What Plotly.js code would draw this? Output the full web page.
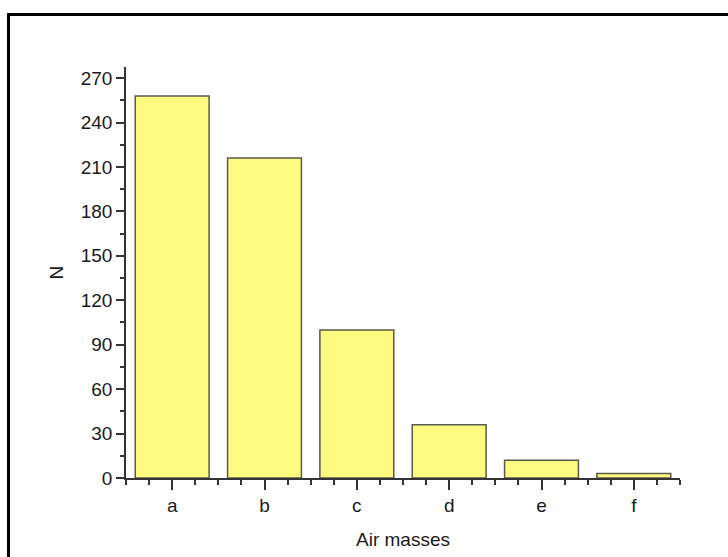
<!DOCTYPE html>
<html>
<head>
<meta charset="utf-8">
<script src="https://cdn.plot.ly/plotly-3.0.1.min.js"></script>
<style>
  html, body { margin: 0; padding: 0; background: #fff; }
  #wrap { position: relative; width: 728px; height: 557px; overflow: hidden; }
  #chart { position: absolute; left: 0; top: 0; width: 728px; height: 557px; }
  #frame { position: absolute; left: 7px; top: 13px; width: 760px; height: 600px;
           border-top: 3px solid #000; border-left: 3px solid #000; pointer-events: none; }
</style>
</head>
<body>
<div id="wrap">
  <div id="chart"></div>
  <div id="frame"></div>
</div>
<script>
const categories = ['a', 'b', 'c', 'd', 'e', 'f'];
const counts = [258, 216, 100, 36, 12, 3];
const yTicks = [0, 30, 60, 90, 120, 150, 180, 210, 240, 270];
const xTitle = 'Air masses';
const yTitle = 'N';

const positions = categories.map((_, i) => i);
const fontFam = '"Liberation Sans", Arial, sans-serif';

const trace = {
  type: 'bar',
  x: positions,
  y: counts,
  width: 0.8,
  marker: { color: '#FFFA80', line: { color: '#5a5a4a', width: 1.5 } },
  hoverinfo: 'x+y'
};

const layout = {
  width: 728, height: 557,
  margin: { l: 126, r: 48, t: 67, b: 79 },
  paper_bgcolor: 'rgba(0,0,0,0)',
  plot_bgcolor: 'rgba(0,0,0,0)',
  showlegend: false,
  font: { family: fontFam, size: 19, color: '#1a1a1a' },
  xaxis: {
    range: [-0.5, 5.5],
    tickmode: 'array',
    tickvals: positions,
    ticktext: categories,
    ticks: 'outside', ticklen: 10, tickwidth: 1.5, tickcolor: '#333',
    showline: true, linecolor: '#333', linewidth: 1.5,
    showgrid: false, zeroline: false,
    ticklabelstandoff: -1,
    minor: { tickmode: 'linear', tick0: -0.5, dtick: 0.25, ticks: 'outside', ticklen: 5, tickwidth: 1.5, tickcolor: '#333', showgrid: false },
    title: { text: xTitle, standoff: 18, font: { size: 19 } },
    fixedrange: true
  },
  yaxis: {
    range: [0, 277.5],
    tickmode: 'array',
    tickvals: yTicks,
    ticks: 'outside', ticklen: 8, tickwidth: 1.5, tickcolor: '#333',
    showline: true, linecolor: '#333', linewidth: 1.5,
    showgrid: false, zeroline: false,
    minor: { tickmode: 'linear', tick0: 0, dtick: 15, ticks: 'outside', ticklen: 4, tickwidth: 1.5, tickcolor: '#333', showgrid: false },
    title: { text: yTitle, standoff: 12, font: { size: 19 } },
    fixedrange: true
  }
};

Plotly.newPlot('chart', [trace], layout, { displayModeBar: false });
</script>
</body>
</html>
